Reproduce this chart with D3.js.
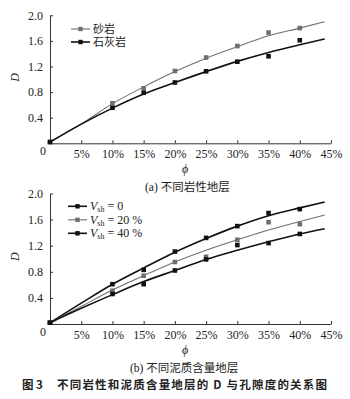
<!DOCTYPE html>
<html>
<head>
<meta charset="utf-8">
<script src="https://cdn.jsdelivr.net/npm/d3@7/dist/d3.min.js"></script>
<style>
  html, body { margin: 0; padding: 0; background: #fff; }
  svg { display: block; }
  .num { font-family: "Liberation Serif", "Times New Roman", serif; font-size: 12px; fill: #222; }
  .cjk { font-family: "Liberation Serif", "Noto Sans CJK SC", serif; fill: #222; }
  .title { font-family: "Noto Sans CJK SC", sans-serif; fill: #222; }
</style>
</head>
<body>
<svg id="chart" width="350" height="399"></svg>
<script>
// Porosity values (fraction) of the measured samples
const phiPts = [0.0, 0.10, 0.15, 0.20, 0.25, 0.30, 0.35, 0.40];
// Porosity values at which the fitted curves are sampled
const phiFit = [0.0, 0.05, 0.10, 0.15, 0.20, 0.25, 0.30, 0.35, 0.40, 0.44];

// (a) lithology: sandstone / limestone
const sandPts = [0.02, 0.625, 0.86, 1.13, 1.34, 1.52, 1.73, 1.80];
const limePts = [0.02, 0.555, 0.79, 0.95, 1.125, 1.275, 1.36, 1.61];
const sandFit = [0.02, 0.30, 0.62, 0.88, 1.12, 1.33, 1.51, 1.68, 1.80, 1.90];
const limeFit = [0.02, 0.30, 0.55, 0.77, 0.95, 1.12, 1.28, 1.42, 1.54, 1.63];

// (b) shale content
const vsh0Pts  = [0.02, 0.61, 0.83, 1.11, 1.32, 1.50, 1.70, 1.76];
const vsh20Pts = [0.02, 0.51, 0.74, 0.95, 1.03, 1.29, 1.56, 1.53];
const vsh40Pts = [0.02, 0.46, 0.61, 0.82, 0.99, 1.21, 1.24, 1.38];
const vsh0Fit  = [0.02, 0.32, 0.61, 0.86, 1.10, 1.31, 1.50, 1.66, 1.78, 1.87];
const vsh20Fit = [0.02, 0.27, 0.52, 0.74, 0.95, 1.13, 1.29, 1.44, 1.57, 1.67];
const vsh40Fit = [0.02, 0.24, 0.45, 0.65, 0.82, 0.99, 1.13, 1.26, 1.38, 1.46];

const xTicks = [0.05, 0.10, 0.15, 0.20, 0.25, 0.30, 0.35, 0.40, 0.45];
const yTicks = [0.4, 0.8, 1.2, 1.6, 2.0];

const BLACK = "#111";
const GREY = "#6f6f6f";

const svg = d3.select("#chart");
const x = d3.scaleLinear().domain([0, 0.45]).range([50, 331]);

function panel(opts) {
  const y = d3.scaleLinear().domain([0, 2]).range([opts.y0, opts.y2]);
  const g = svg.append("g");

  const ax = g.append("g")
    .attr("transform", `translate(0,${opts.y0})`)
    .call(d3.axisBottom(x).tickValues(xTicks).tickSizeInner(-3).tickSizeOuter(0)
      .tickPadding(6).tickFormat(d3.format(".0%")));
  const ay = g.append("g")
    .attr("transform", `translate(${x(0)},0)`)
    .call(d3.axisLeft(y).tickValues(yTicks).tickSizeInner(-3).tickSizeOuter(0)
      .tickPadding(7).tickFormat(d3.format(".1f")));
  [ax, ay].forEach(a => {
    a.attr("font-family", null).attr("font-size", null);
    a.selectAll("path, line").attr("stroke", "#333").attr("stroke-width", 1);
    a.selectAll("text").attr("class", "num");
  });

  // origin label
  g.append("text").attr("class", "num")
    .attr("x", x(0) - 7).attr("y", opts.y0 + 12).attr("text-anchor", "middle").text("0");

  // axis titles
  g.append("text").attr("class", "num")
    .attr("transform", `translate(19,${(opts.y0 + opts.y2) / 2 - 2}) rotate(-90)`)
    .attr("text-anchor", "middle").attr("font-style", "italic").attr("font-size", 13).text("D");
  g.append("text").attr("class", "num")
    .attr("x", 185).attr("y", opts.y0 + 30).attr("text-anchor", "middle")
    .attr("font-style", "italic").attr("font-size", 13).text("ϕ");

  const line = d3.line().x((d, i) => x(phiFit[i])).y(d => y(d)).curve(d3.curveMonotoneX);

  opts.series.forEach(s => {
    g.append("path").datum(s.fit)
      .attr("d", line).attr("fill", "none")
      .attr("stroke", s.color).attr("stroke-width", s.width);
    g.selectAll(null).data(s.pts).enter().append("rect")
      .attr("x", (d, i) => x(phiPts[i]) - 2.3).attr("y", d => y(d) - 2.3)
      .attr("width", 4.6).attr("height", 4.6).attr("fill", s.color);
  });

  // legend
  opts.series.forEach((s, i) => {
    const ly = opts.legY + i * opts.legStep;
    g.append("line").attr("x1", opts.legX).attr("x2", opts.legX + 19)
      .attr("y1", ly).attr("y2", ly).attr("stroke", s.color).attr("stroke-width", s.width);
    g.append("rect").attr("x", opts.legX + 9.5 - 2.2).attr("y", ly - 2.2)
      .attr("width", 4.4).attr("height", 4.4).attr("fill", s.color);
    s.label(g.append("text").attr("x", opts.legX + 22).attr("y", ly + 4));
  });

  // caption
  g.append("text").attr("class", "cjk")
    .attr("x", opts.capX).attr("y", opts.y0 + 48).attr("font-size", 11.5).text(opts.caption);
}

function cjkLabel(txt) {
  return t => t.attr("class", "cjk").attr("font-size", 11).text(txt);
}
function vshLabel(val) {
  return t => {
    t.attr("class", "num").attr("font-size", 12.5);
    t.append("tspan").attr("font-style", "italic").text("V");
    t.append("tspan").attr("font-size", 8).attr("dy", 2).text("sh");
    t.append("tspan").attr("dy", -2).text(" = " + val);
  };
}

panel({
  y0: 143.3, y2: 15.3,
  legX: 71, legY: 29, legStep: 13,
  capX: 145, caption: "(a) 不同岩性地层",
  series: [
    { pts: sandPts, fit: sandFit, color: GREY, width: 1.1, label: cjkLabel("砂岩") },
    { pts: limePts, fit: limeFit, color: BLACK, width: 1.6, label: cjkLabel("石灰岩") }
  ]
});

panel({
  y0: 324, y2: 193.5,
  legX: 68, legY: 206.3, legStep: 13.5,
  capX: 130, caption: "(b) 不同泥质含量地层",
  series: [
    { pts: vsh0Pts, fit: vsh0Fit, color: BLACK, width: 1.6, label: vshLabel("0") },
    { pts: vsh20Pts, fit: vsh20Fit, color: GREY, width: 1.1, label: vshLabel("20 %") },
    { pts: vsh40Pts, fit: vsh40Fit, color: BLACK, width: 1.6, label: vshLabel("40 %") }
  ]
});

// figure title
svg.append("text").attr("class", "title")
  .attr("x", 22).attr("y", 389).attr("font-size", 11.5).attr("font-weight", "bold")
  .text("图 3");
svg.append("text").attr("class", "title")
  .attr("x", 57).attr("y", 389).attr("font-size", 11.5).attr("font-weight", "bold")
  .attr("textLength", 270).attr("lengthAdjust", "spacing")
  .text("不同岩性和泥质含量地层的 D 与孔隙度的关系图");
</script>
</body>
</html>
